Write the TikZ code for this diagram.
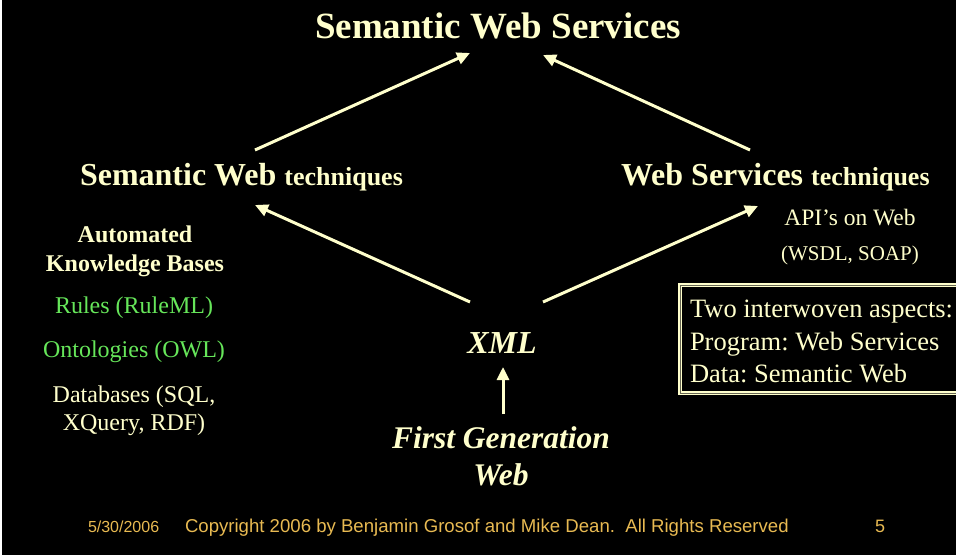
\documentclass[tikz,border=0pt]{standalone}
\usepackage{fontspec}
\setmainfont{Liberation Serif}
\setsansfont{Liberation Sans}
\usetikzlibrary{arrows.meta}
\definecolor{cream}{RGB}{255,255,204}
\definecolor{lgreen}{RGB}{102,230,90}
\definecolor{gold}{RGB}{232,186,82}
\newcommand\fsz[1]{\fontsize{#1}{#1}\selectfont}
\frenchspacing
\begin{document}
\begin{tikzpicture}[x=1pt,y=-1pt,
  every node/.style={inner sep=0pt,outer sep=0pt},
  txt/.style={text=cream,anchor=base},
  txtw/.style={text=cream,anchor=base west},
  grn/.style={text=lgreen,anchor=base},
  foot/.style={text=gold,anchor=base west,font=\sffamily},
  arr/.style={draw=cream,line width=3pt,-{Triangle[length=13pt,width=12pt]}},
  boxline/.style={draw=cream,line width=1.4pt,double=black!60!cream,double distance=0.8pt}]
\clip (0,0) rectangle (956,555);
\fill[black] (0,0) rectangle (956,555);
\fill[white] (0,0) rectangle (2.3,555);

% title
\node[txt,font=\bfseries\fsz{37}] (sws) at (498,38) {Semantic Web Services};

% headings
\node[txtw] (swt) at (80,185) {\bfseries\fsz{32}Semantic Web \fsz{26}techniques};
\node[txtw] (wst) at (621,185) {\bfseries\fsz{32}Web Services \fsz{26}techniques};

% left column
\node[txt,font=\bfseries\fsz{24}] (auto) at (135,242) {Automated};
\node[txt,font=\bfseries\fsz{24}] (kb) at (135,271) {Knowledge Bases};
\node[grn,font=\fsz{24}] (rules) at (134,313) {Rules (RuleML)};
\node[grn,font=\fsz{24}] (onto) at (134,357) {Ontologies (OWL)};
\node[txt,font=\fsz{24}] (db1) at (134,402) {Databases (SQL,};
\node[txt,font=\fsz{24}] (db2) at (134,430) {XQuery, RDF)};

% right column
\node[txt,font=\fsz{23.5}] (api) at (850,225) {API’s on Web};
\node[txt,font=\fsz{21}] (wsdl) at (850,260) {(WSDL, SOAP)};

% box
\node[boxline,anchor=north west,minimum width=285pt,minimum height=108pt] (box) at (680,285) {};
\node[txtw,font=\fsz{26.5}] (b1) at (690,317) {Two interwoven aspects:};
\node[txtw,font=\fsz{26.5}] (b2) at (690,350) {Program: Web Services};
\node[txtw,font=\fsz{26.5}] (b3) at (690,382) {Data: Semantic Web};

% centre
\node[txt,font=\bfseries\itshape\fsz{32}] (xml) at (502,353) {XML};
\node[txt,font=\bfseries\itshape\fsz{31.5}] (fgw1) at (501,448) {First Generation};
\node[txt,font=\bfseries\itshape\fsz{31.5}] (fgw2) at (501,485) {Web};

% connector end points
\coordinate (swsL) at (470,53);
\coordinate (swsR) at (543,55);
\coordinate (swtTop) at (255,150);
\coordinate (wstTop) at (750,150);
\coordinate (swtIn) at (255,205);
\coordinate (wstIn) at (758,206);
\coordinate (xmlL) at (470,302);
\coordinate (xmlR) at (543,302);
\coordinate (xmlIn) at (503,367);
\coordinate (fgwTop) at (503,414);

\draw[arr] (swtTop) -- (swsL);
\draw[arr] (wstTop) -- (swsR);
\draw[arr] (xmlL) -- (swtIn);
\draw[arr] (xmlR) -- (wstIn);
\draw[arr] (fgwTop) -- (xmlIn);

% footer
\node[foot,font=\sffamily\fsz{16}] (date) at (88,532) {5/30/2006};
\node[foot,font=\sffamily\fsz{18.6}] (copy) at (185,532) {Copyright 2006 by Benjamin Grosof and Mike Dean.\ \ All Rights Reserved};
\node[foot,font=\sffamily\fsz{18}] (page) at (875,532) {5};
\end{tikzpicture}
\end{document}
